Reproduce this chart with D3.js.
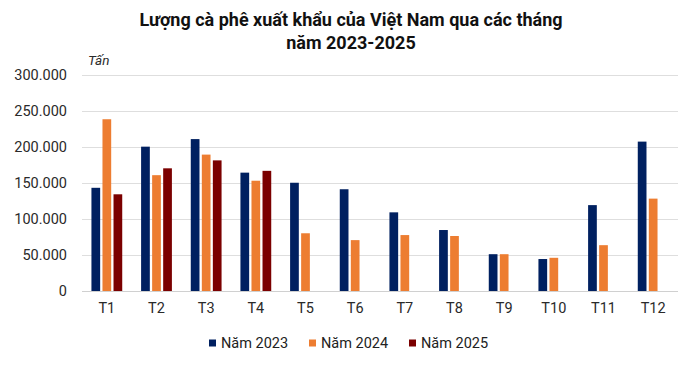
<!DOCTYPE html>
<html>
<head>
<meta charset="utf-8">
<script src="https://cdn.jsdelivr.net/npm/d3@7"></script>
<style>
  body { margin: 0; background: #fff; }
  svg { font-family: Roboto, "Noto Sans", sans-serif; }
</style>
</head>
<body>
<div id="chart"></div>
<script>
// monthly coffee export volume (tons)
var months = ["T1", "T2", "T3", "T4", "T5", "T6", "T7", "T8", "T9", "T10", "T11", "T12"];
var series = ["Năm 2023", "Năm 2024", "Năm 2025"];
var colors = ["#002060", "#ED7D31", "#7B0000"];
var y2023 = [143000, 200000, 210500, 164000, 150000, 141000, 109000, 84500, 51000, 44300, 119000, 207000];
var y2024 = [238000, 160500, 189000, 152800, 80000, 70500, 77500, 76200, 51000, 46000, 63500, 128000];
var y2025 = [134000, 170000, 181000, 166500, null, null, null, null, null, null, null, null];
var yTicks = [0, 50000, 100000, 150000, 200000, 250000, 300000];

var values = [y2023, y2024, y2025];
var data = months.map(function(m, i) {
  return { month: m, vals: series.map(function(s, j) { return { key: s, v: values[j][i], c: colors[j] }; }) };
});

var W = 700, H = 392;
var svg = d3.select("#chart").append("svg")
  .attr("width", W).attr("height", H);

// plot area (note: "top" is taken by window.top)
var plotLeft = 82, plotRight = 678, plotTop = 74.5, plotBottom = 291;

var vn = d3.formatLocale({ decimal: ",", thousands: ".", grouping: [3], currency: ["", ""] });
var fmt = vn.format(",d");

// title
var title = svg.append("text")
  .attr("text-anchor", "middle")
  .attr("font-weight", "bold")
  .attr("font-size", "18px")
  .attr("fill", "#111");
title.append("tspan").attr("x", 351).attr("y", 26).text("Lượng cà phê xuất khẩu của Việt Nam qua các tháng");
title.append("tspan").attr("x", 351).attr("y", 49).text("năm 2023-2025");

// scales
var x0 = d3.scaleBand().domain(months).range([plotLeft, plotRight]).paddingInner(0.38).paddingOuter(0.19);
var x1 = d3.scaleBand().domain(series).range([0, x0.bandwidth()]).paddingInner(0.21).paddingOuter(0);
var y = d3.scaleLinear().domain([0, 300000]).range([plotBottom, plotTop]);

// gridlines
svg.append("g").selectAll("line")
  .data(yTicks)
  .enter().append("line")
    .attr("x1", plotLeft).attr("x2", plotRight)
    .attr("y1", function(d) { return Math.round(y(d)) + 0.5; })
    .attr("y2", function(d) { return Math.round(y(d)) + 0.5; })
    .attr("stroke", function(d) { return d === 0 ? "#d0d0d0" : "#dedede"; })
    .attr("stroke-width", 1);

// y axis
var yAxis = svg.append("g")
  .attr("transform", "translate(" + plotLeft + ",0)")
  .call(d3.axisLeft(y).tickValues(yTicks).tickFormat(fmt).tickSize(0).tickPadding(15));
yAxis.select(".domain").remove();
yAxis.selectAll("text").attr("font-size", "14.5px").attr("fill", "#2a2a2a").attr("font-family", "Roboto, sans-serif");

svg.append("text")
  .attr("x", 88).attr("y", 65)
  .attr("font-style", "italic")
  .attr("font-size", "13.5px")
  .attr("fill", "#2a2a2a")
  .text("Tấn");

// bars
var groups = svg.append("g").selectAll("g")
  .data(data)
  .enter().append("g")
    .attr("transform", function(d) { return "translate(" + x0(d.month) + ",0)"; });

groups.selectAll("rect")
  .data(function(d) { return d.vals.filter(function(v) { return v.v != null; }); })
  .enter().append("rect")
    .attr("x", function(d) { return x1(d.key); })
    .attr("y", function(d) { return y(d.v); })
    .attr("width", x1.bandwidth())
    .attr("height", function(d) { return plotBottom - y(d.v); })
    .attr("fill", function(d) { return d.c; });

// x axis
var xAxis = svg.append("g")
  .attr("transform", "translate(0," + plotBottom + ")")
  .call(d3.axisBottom(x0).tickSize(0).tickPadding(12));
xAxis.select(".domain").remove();
xAxis.selectAll("text").attr("font-size", "14.5px").attr("fill", "#2a2a2a").attr("font-family", "Roboto, sans-serif");

// legend
var legX = [209, 309, 409];
var legend = svg.append("g").selectAll("g")
  .data(series)
  .enter().append("g")
    .attr("transform", function(d, i) { return "translate(" + legX[i] + ",343)"; });
legend.append("rect")
  .attr("x", 0).attr("y", -3.5).attr("width", 7).attr("height", 7)
  .attr("fill", function(d, i) { return colors[i]; });
legend.append("text")
  .attr("x", 12).attr("y", 0).attr("dy", "0.35em")
  .attr("font-size", "14.5px").attr("fill", "#222")
  .text(function(d) { return d; });
</script>
</body>
</html>
